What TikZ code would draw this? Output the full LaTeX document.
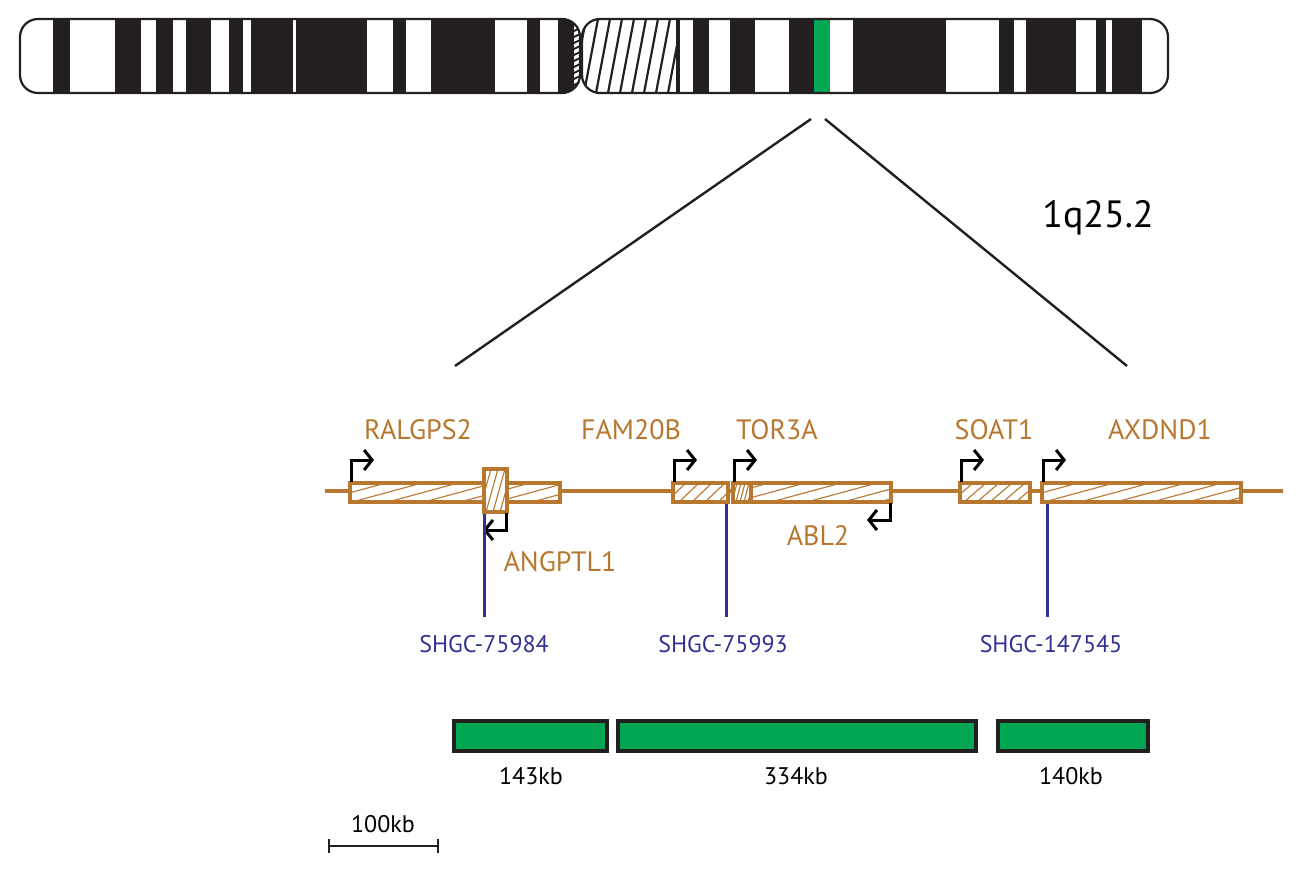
\documentclass[tikz,border=0pt]{standalone}
\usepackage{fontspec}
\setmainfont{PT Sans}
\usetikzlibrary{arrows.meta}
\definecolor{gene}{HTML}{B8772F}
\definecolor{probe}{HTML}{2E3192}
\definecolor{grn}{HTML}{00A651}
\definecolor{dk}{HTML}{231F20}
\newcommand{\hatchrect}[6]{% x1 y1 x2 y2 dx spacing
  \begin{scope}
    \clip (#1,#2) rectangle (#3,#4);
    \pgfmathsetmacro{\hs}{#1-#5-#6}\pgfmathsetmacro{\hn}{#1-#5}
    \foreach \xx in {\hs,\hn,...,#3}{\draw[gene,line width=1.1pt] (\xx,#4) -- ++(#5,#2-#4);}
  \end{scope}
  \draw[gene,line width=3.2pt] (#1,#2) rectangle (#3,#4);}
\tikzset{
  glabel/.style={text=gene,font=\fontsize{28}{32}\selectfont},
  plabel/.style={text=probe,font=\fontsize{24}{28}\selectfont},
  klabel/.style={text=black,font=\fontsize{24}{28}\selectfont},
  tss/.style={line width=3pt,-{Straight Barb[length=8pt,width=20pt,line width=3pt]}},
  probeline/.style={probe,line width=3pt},
  kbbox/.style={fill=grn,draw=dk,line width=3.4pt}
}
\begin{document}
\begin{tikzpicture}[x=1pt,y=-1pt]
\useasboundingbox (0,0) rectangle (1307,876);
% chromosome left arm
\begin{scope}
 \clip[rounded corners=18pt] (20,19) rectangle (580,93);
 \foreach \a/\b in {53/70,115/141,156/173,186/211,229/243,251/293,296/367,393/406,431/495,527/540,558/574}
   \fill[dk] (\a,19) rectangle (\b,93);
 \fill[white] (574,19) rectangle (580,93);
 \begin{scope}
  \clip (572,19) rectangle (582,93);
  \foreach \yy in {20,26,...,96}{\draw[dk,line width=2pt] (572,\yy) -- (582,\yy-5);}
 \end{scope}
\end{scope}
\draw[dk,line width=2.2pt,rounded corners=18pt] (20,19) rectangle (580,93);
% right arm
\begin{scope}
 \clip[rounded corners=18pt] (582,19) rectangle (1168,93);
 \begin{scope}
  \clip (582,19) rectangle (676,93);
  \foreach \xx in {560,572,...,690}{\draw[dk,line width=2.2pt] (\xx,93) -- ++(14,-74);}
 \end{scope}
 \fill[dk] (676,19) rectangle (680,93);
 \foreach \a/\b in {693/709,730/755,789/814,853/946,999/1014,1026/1076,1096/1106,1112/1142}
   \fill[dk] (\a,19) rectangle (\b,93);
 \fill[grn] (814,19) rectangle (830,93);
\end{scope}
\draw[dk,line width=2.2pt,rounded corners=18pt] (582,19) rectangle (1168,93);
% zoom lines
\coordinate (z1) at (811,119); \coordinate (z2) at (825,119);
\coordinate (z3) at (455,366); \coordinate (z4) at (1127,366);
\draw[dk,line width=2.4pt] (z1) -- (z3) (z2) -- (z4);
\node[font=\fontsize{38}{42}\selectfont] (band) at (1098,218) {1q25.2};
% backbone
\coordinate (bl) at (325,491); \coordinate (br) at (1283,491);
\draw[gene,line width=3.4pt] (bl) -- (br);
% genes
\fill[white] (350,483) rectangle (560,502);
\hatchrect{350}{483}{560}{502}{70}{36}
\fill[white] (484,469) rectangle (507,512);
\hatchrect{484}{469}{507}{512}{12}{7}
\fill[white] (673,483) rectangle (728,502);
\hatchrect{673}{483}{728}{502}{20}{13}
\fill[white] (733,483) rectangle (891,502);
\hatchrect{733}{483}{891}{502}{70}{36}
\fill[white] (733,483) rectangle (751,502);
\hatchrect{733}{483}{751}{502}{5}{4}
\fill[white] (960,483) rectangle (1030,502);
\hatchrect{960}{483}{1030}{502}{22}{13}
\fill[white] (1042,483) rectangle (1241,502);
\hatchrect{1042}{483}{1241}{502}{70}{36}
% TSS arrows
\draw[tss] (351,482) -- (351,460) -- (374,460);
\draw[tss] (674,482) -- (674,460) -- (697,460);
\draw[tss] (734,482) -- (734,460) -- (757,460);
\draw[tss] (961,482) -- (961,460) -- (984,460);
\draw[tss] (1043,482) -- (1043,460) -- (1066,460);
\draw[tss] (506,513) -- (506,530) -- (483,530);
\draw[tss] (890,503) -- (890,520) -- (867,520);
% gene labels
\node[glabel] (ralgps2) at (418,430) {RALGPS2};
\node[glabel] (angptl1) at (560,562) {ANGPTL1};
\node[glabel] (fam20b) at (631,430) {FAM20B};
\node[glabel] (tor3a) at (777,430) {TOR3A};
\node[glabel] (abl2) at (818,536) {ABL2};
\node[glabel] (soat1) at (994,430) {SOAT1};
\node[glabel] (axdnd1) at (1160,430) {AXDND1};
% probes
\node[plabel] (p1) at (484,644) {SHGC-75984};
\node[plabel] (p2) at (723,644) {SHGC-75993};
\node[plabel] (p3) at (1051,644) {SHGC-147545};
\draw[probeline] (484,514) -- (484,617);
\draw[probeline] (726,504) -- (726,617);
\draw[probeline] (1047,504) -- (1047,617);
% kb boxes
\draw[kbbox] (454,721) rectangle (607,751);
\draw[kbbox] (618,721) rectangle (976,751);
\draw[kbbox] (998,721) rectangle (1148,751);
\node[klabel] (k1) at (531,776) {143kb};
\node[klabel] (k2) at (796,776) {334kb};
\node[klabel] (k3) at (1071,776) {140kb};
% scale bar
\coordinate (s1) at (329,846); \coordinate (s2) at (438,846);
\draw[dk,line width=2.6pt] (s1) -- (s2);
\draw[dk,line width=2.6pt] (329,839) -- (329,853) (438,839) -- (438,853);
\node[klabel] (sb) at (383,824) {100kb};
\end{tikzpicture}
\end{document}
